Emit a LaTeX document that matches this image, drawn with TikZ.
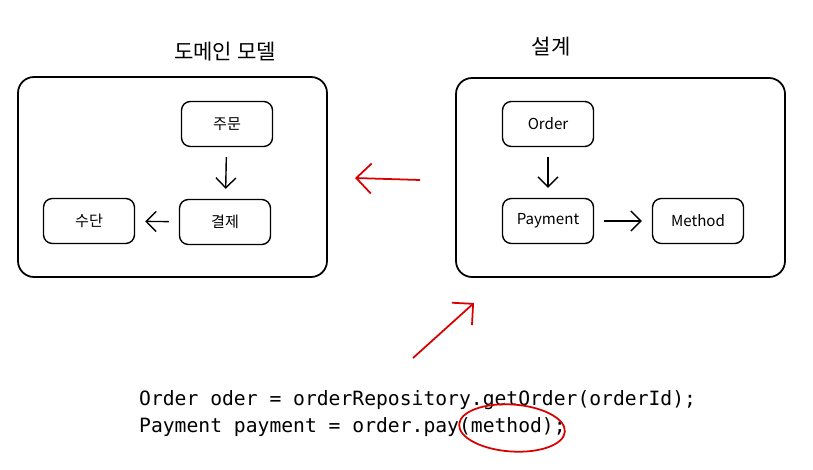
\documentclass[tikz,border=0pt]{standalone}
\usepackage{fontspec}
\setmainfont{Noto Sans CJK KR}
\setmonofont{DejaVu Sans Mono}
\usetikzlibrary{arrows.meta,positioning}

\begin{document}
\begin{tikzpicture}[x=0.02cm, y=-0.02cm, every node/.style={font=\small},
  part/.style={draw, thick, rounded corners=5pt, minimum width=1.82cm, minimum height=0.9cm, font=\fontsize{8.6}{10}\selectfont},
  link/.style={-{Straight Barb[length=2mm]}, thick, shorten <=0.2cm, shorten >=0.2cm},
  hint/.style={-{Straight Barb[length=3mm]}, line width=1pt, red!85!black},
  title/.style={font=\fontsize{12}{14}\selectfont},
  code/.style={anchor=west, font=\ttfamily\fontsize{11.2}{13}\selectfont}]

\useasboundingbox (0,0) rectangle (813,469);

% domain model
\draw[line width=1pt, rounded corners=0.32cm] (18,77) rectangle (327,277);
\node[title] (domaintitle) at (225,52) {도메인 모델};
\node[part] (jumun) at (227,124) {주문};
\node[part] (gyeolje) at (225,222) {결제};
\node[part] (sudan) at (89,221) {수단};
\draw[link] (jumun) -- (gyeolje);
\draw[link] (gyeolje) -- (sudan);

% design
\draw[line width=1pt, rounded corners=0.32cm] (456,78) rectangle (785,277);
\node[title] (designtitle) at (551,47) {설계};
\node[part] (order) at (548,124) {Order};
\node[part] (payment) at (548,221) {Payment};
\node[part] (method) at (698,221) {Method};
\draw[link] (order) -- (payment);
\draw[link] (payment) -- (method);

% hints
\coordinate (leftfrom) at (420,180);
\coordinate (leftto) at (355,178);
\coordinate (upfrom) at (413,358);
\coordinate (upto) at (474,303);
\draw[hint] (leftfrom) -- (leftto);
\draw[hint] (upfrom) -- (upto);

\node[code] (line1) at (133,400) {Order oder = orderRepository.getOrder(orderId);};
\node[code] (line2) at (133,427) {Payment payment = order.pay(method);};
\draw[line width=1pt, red!85!black, rotate around={-4:(512,428)}] (512,428) ellipse (1.06cm and 0.47cm);

\end{tikzpicture}
\end{document}
